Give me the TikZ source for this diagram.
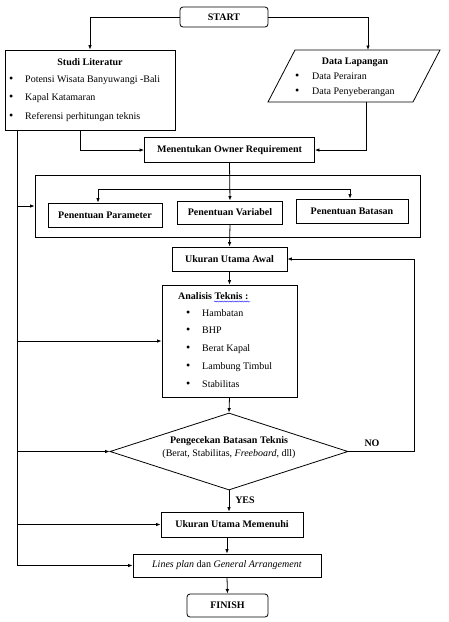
\documentclass[tikz,border=0pt]{standalone}
\usepackage{fontspec}
\setmainfont{Liberation Serif}
\usetikzlibrary{arrows.meta,shapes.geometric,decorations.pathmorphing}

\newcommand{\itembullet}[1][16pt]{\makebox[#1][l]{\large\textbullet}}

\begin{document}
\begin{tikzpicture}[x=1pt,y=-1pt,
    box/.style={draw,line width=0.8pt,inner sep=0pt,font=\bfseries},
    item/.style={anchor=west,inner sep=0pt},
    ln/.style={line width=0.8pt},
    arr/.style={ln,-{Latex[length=4.5pt,width=3.5pt]}}]
        \useasboundingbox (0,0) rectangle (448,622);

        % start and the two inputs
        \node[box,rounded corners=3pt,minimum width=88pt,minimum height=20pt] (start) at (224,17) {START};

        \node[box,minimum width=170pt,minimum height=80pt] (studi) at (90,90) {};
        \node[font=\bfseries] (studit) at (90,62) {Studi Literatur};
        \node[item] (studi1) at (9,80) {\itembullet Potensi Wisata Banyuwangi -Bali};
        \node[item] (studi2) at (9,98) {\itembullet Kapal Katamaran};
        \node[item] (studi3) at (9,117) {\itembullet Referensi perhitungan teknis};

        \draw[ln] (295,50) -- (440,50) -- (413,102) -- (268,102) -- cycle;
        \coordinate (datatop) at (368,50);
        \coordinate (databot) at (366,102);
        \node[font=\bfseries] (datat) at (355,62) {Data Lapangan};
        \node[item] (data1) at (295,76) {\itembullet[17pt]Data Perairan};
        \node[item] (data2) at (295,92) {\itembullet[17pt]Data Penyeberangan};

        \draw[arr] (start.west) -| (studi.north);
        \draw[arr] (start.east) -| (datatop);

        % owner requirement
        \node[box,minimum width=170pt,minimum height=25pt] (owner) at (229.5,150) {Menentukan Owner Requirement};
        \coordinate (lit) at (80,130);
        \coordinate (spine) at (17,130);
        \draw[arr] (lit) |- (owner.west);
        \draw[arr] (databot) |- (owner.east);

        % penentuan
        \node[box,minimum width=385pt,minimum height=62pt] (group) at (227.5,206) {};
        \node[box,minimum width=114pt,minimum height=24pt] (param) at (105,215) {Penentuan Parameter};
        \node[box,minimum width=105pt,minimum height=23pt] (var) at (230,212.5) {Penentuan Variabel};
        \node[box,minimum width=112pt,minimum height=24pt] (batas) at (352,211) {Penentuan Batasan};
        \coordinate (fork1) at (98,189);
        \coordinate (fork3) at (350,189);
        \draw[ln] (fork1) -- (fork3);
        \draw[arr] (owner.south) -- (var.north);
        \draw[arr] (fork1) -- (fork1 |- param.north);
        \draw[arr] (fork3) -- (fork3 |- batas.north);

        % ukuran utama awal and analisis
        \node[box,minimum width=115pt,minimum height=24pt] (awal) at (229.5,259) {Ukuran Utama Awal};
        \draw[arr] (var.south) -- (awal.north);

        \node[box,minimum width=135pt,minimum height=112pt] (analisis) at (229.5,341) {};
        \node[item,font=\bfseries] (analisist) at (178,296) {Analisis Teknis :};
        \draw[blue,decorate,decoration={snake,amplitude=0.5pt,segment length=2.5pt}] (214,301.5) -- (250,301.5);
        \node[item] (an1) at (186,313) {\itembullet Hambatan};
        \node[item] (an2) at (186,330) {\itembullet BHP};
        \node[item] (an3) at (186,349) {\itembullet Berat Kapal};
        \node[item] (an4) at (186,367) {\itembullet Lambung Timbul};
        \node[item] (an5) at (186,384) {\itembullet Stabilitas};
        \draw[arr] (awal.south) -- (analisis.north);

        % pengecekan
        \node[draw,ln,diamond,inner sep=0pt,minimum width=238pt,minimum height=77pt] (cek) at (229,451.5) {};
        \node[align=center,inner sep=0pt] (cekt) at (229,448) {\textbf{Pengecekan Batasan Teknis}\\[1pt](Berat, Stabilitas, \textit{Freeboard}, dll)};
        \draw[arr] (analisis.south) -- (cek.north);

        \coordinate (noc) at (414,451.5);
        \draw[arr] (cek.east) -- (noc) |- (awal.east);
        \node[font=\bfseries] (no) at (372,443) {NO};

        % hasil
        \node[box,minimum width=142pt,minimum height=25pt] (memenuhi) at (232,524.5) {Ukuran Utama Memenuhi};
        \draw[arr] (cek.south) -- (cek.south |- memenuhi.north);
        \node[font=\bfseries] (yes) at (245,500) {YES};

        \node[draw,ln,inner sep=0pt,minimum width=188pt,minimum height=23pt] (lines) at (227,565.5) {\textit{Lines plan} dan \textit{General Arrangement}};
        \draw[arr] (lines.north |- memenuhi.south) -- (lines.north);

        \node[box,rounded corners=3pt,minimum width=81pt,minimum height=23pt] (finish) at (227.5,605.5) {FINISH};
        \draw[arr] (lines.south) -- (finish.north);

        % left spine
        \draw[ln] (spine) -- (spine |- lines.west);
        \draw[arr] (spine |- group.west) -- (group.west);
        \draw[arr] (spine |- analisis.west) -- (analisis.west);
        \draw[arr] (spine |- cek.west) -- (cek.west);
        \draw[arr] (spine |- memenuhi.west) -- (memenuhi.west);
        \draw[arr] (spine |- lines.west) -- (lines.west);

    \end{tikzpicture}
\end{document}
